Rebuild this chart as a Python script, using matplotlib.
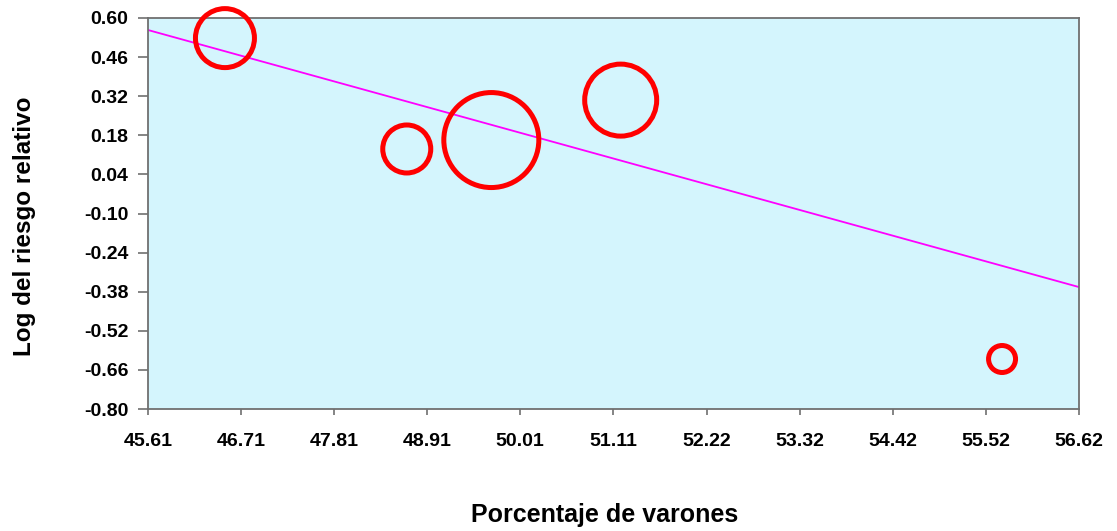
import numpy as np
import matplotlib
matplotlib.use('Agg')
import matplotlib.pyplot as plt

plt.rcParams['font.family'] = ['Liberation Sans', 'DejaVu Sans']

# % varones por estudio, log RR y peso relativo (tamaño de burbuja)
pct_varones = [46.52, 48.67, 49.67, 51.20, 55.71]
log_rr = [0.528, 0.131, 0.163, 0.306, -0.621]
peso = [870, 576, 2256, 1296, 182]

# recta de meta-regresión
intercepto = 0.557
pendiente = -0.0836

x_ticks = [45.61, 46.71, 47.81, 48.91, 50.01, 51.11, 52.22, 53.32, 54.42, 55.52, 56.62]
y_ticks = [0.60, 0.46, 0.32, 0.18, 0.04, -0.10, -0.24, -0.38, -0.52, -0.66, -0.80]

fig = plt.figure(figsize=(11.17, 5.31), dpi=100)
ax = fig.add_axes([148 / 1117, 1 - 409 / 531, 931 / 1117, 391 / 531])
ax.set_facecolor('#D4F5FD')

x0, x1 = x_ticks[0], x_ticks[-1]
ax.plot([x0, x1], [intercepto, intercepto + pendiente * (x1 - x0)],
        color='#FF00FF', lw=1.3, zorder=2)

# diámetro en puntos proporcional a la raíz del peso
diam = 2 * np.sqrt(peso) * 0.72
ax.scatter(pct_varones, log_rr, s=diam ** 2, facecolors='none',
           edgecolors='#FF0000', linewidths=3.6, zorder=3, clip_on=False)

ax.set_xlim(x0, x1)
ax.set_ylim(-0.80, 0.60)
ax.set_xticks(x_ticks)
ax.set_xticklabels([f'{v:.2f}' for v in x_ticks])
ax.set_yticks(y_ticks)
ax.set_yticklabels([f'{v:.2f}' for v in y_ticks])

for sp in ax.spines.values():
    sp.set_color('#707070')
    sp.set_linewidth(1.3)

ax.tick_params(axis='both', direction='out', color='#707070', width=1.2,
               labelsize=14, labelcolor='black')
ax.tick_params(axis='x', length=4, pad=13)
ax.tick_params(axis='y', length=7, pad=7)
for lbl in ax.get_xticklabels() + ax.get_yticklabels():
    lbl.set_fontweight('bold')

fig.text(24 / 1117, 1 - 226 / 531, 'Log del riesgo relativo', rotation=90,
         ha='center', va='center', fontsize=17.5, fontweight='bold')
fig.text(605 / 1117, 1 - 515 / 531, 'Porcentaje de varones',
         ha='center', va='center', fontsize=18, fontweight='bold')

fig.savefig('out.png', dpi=100)
